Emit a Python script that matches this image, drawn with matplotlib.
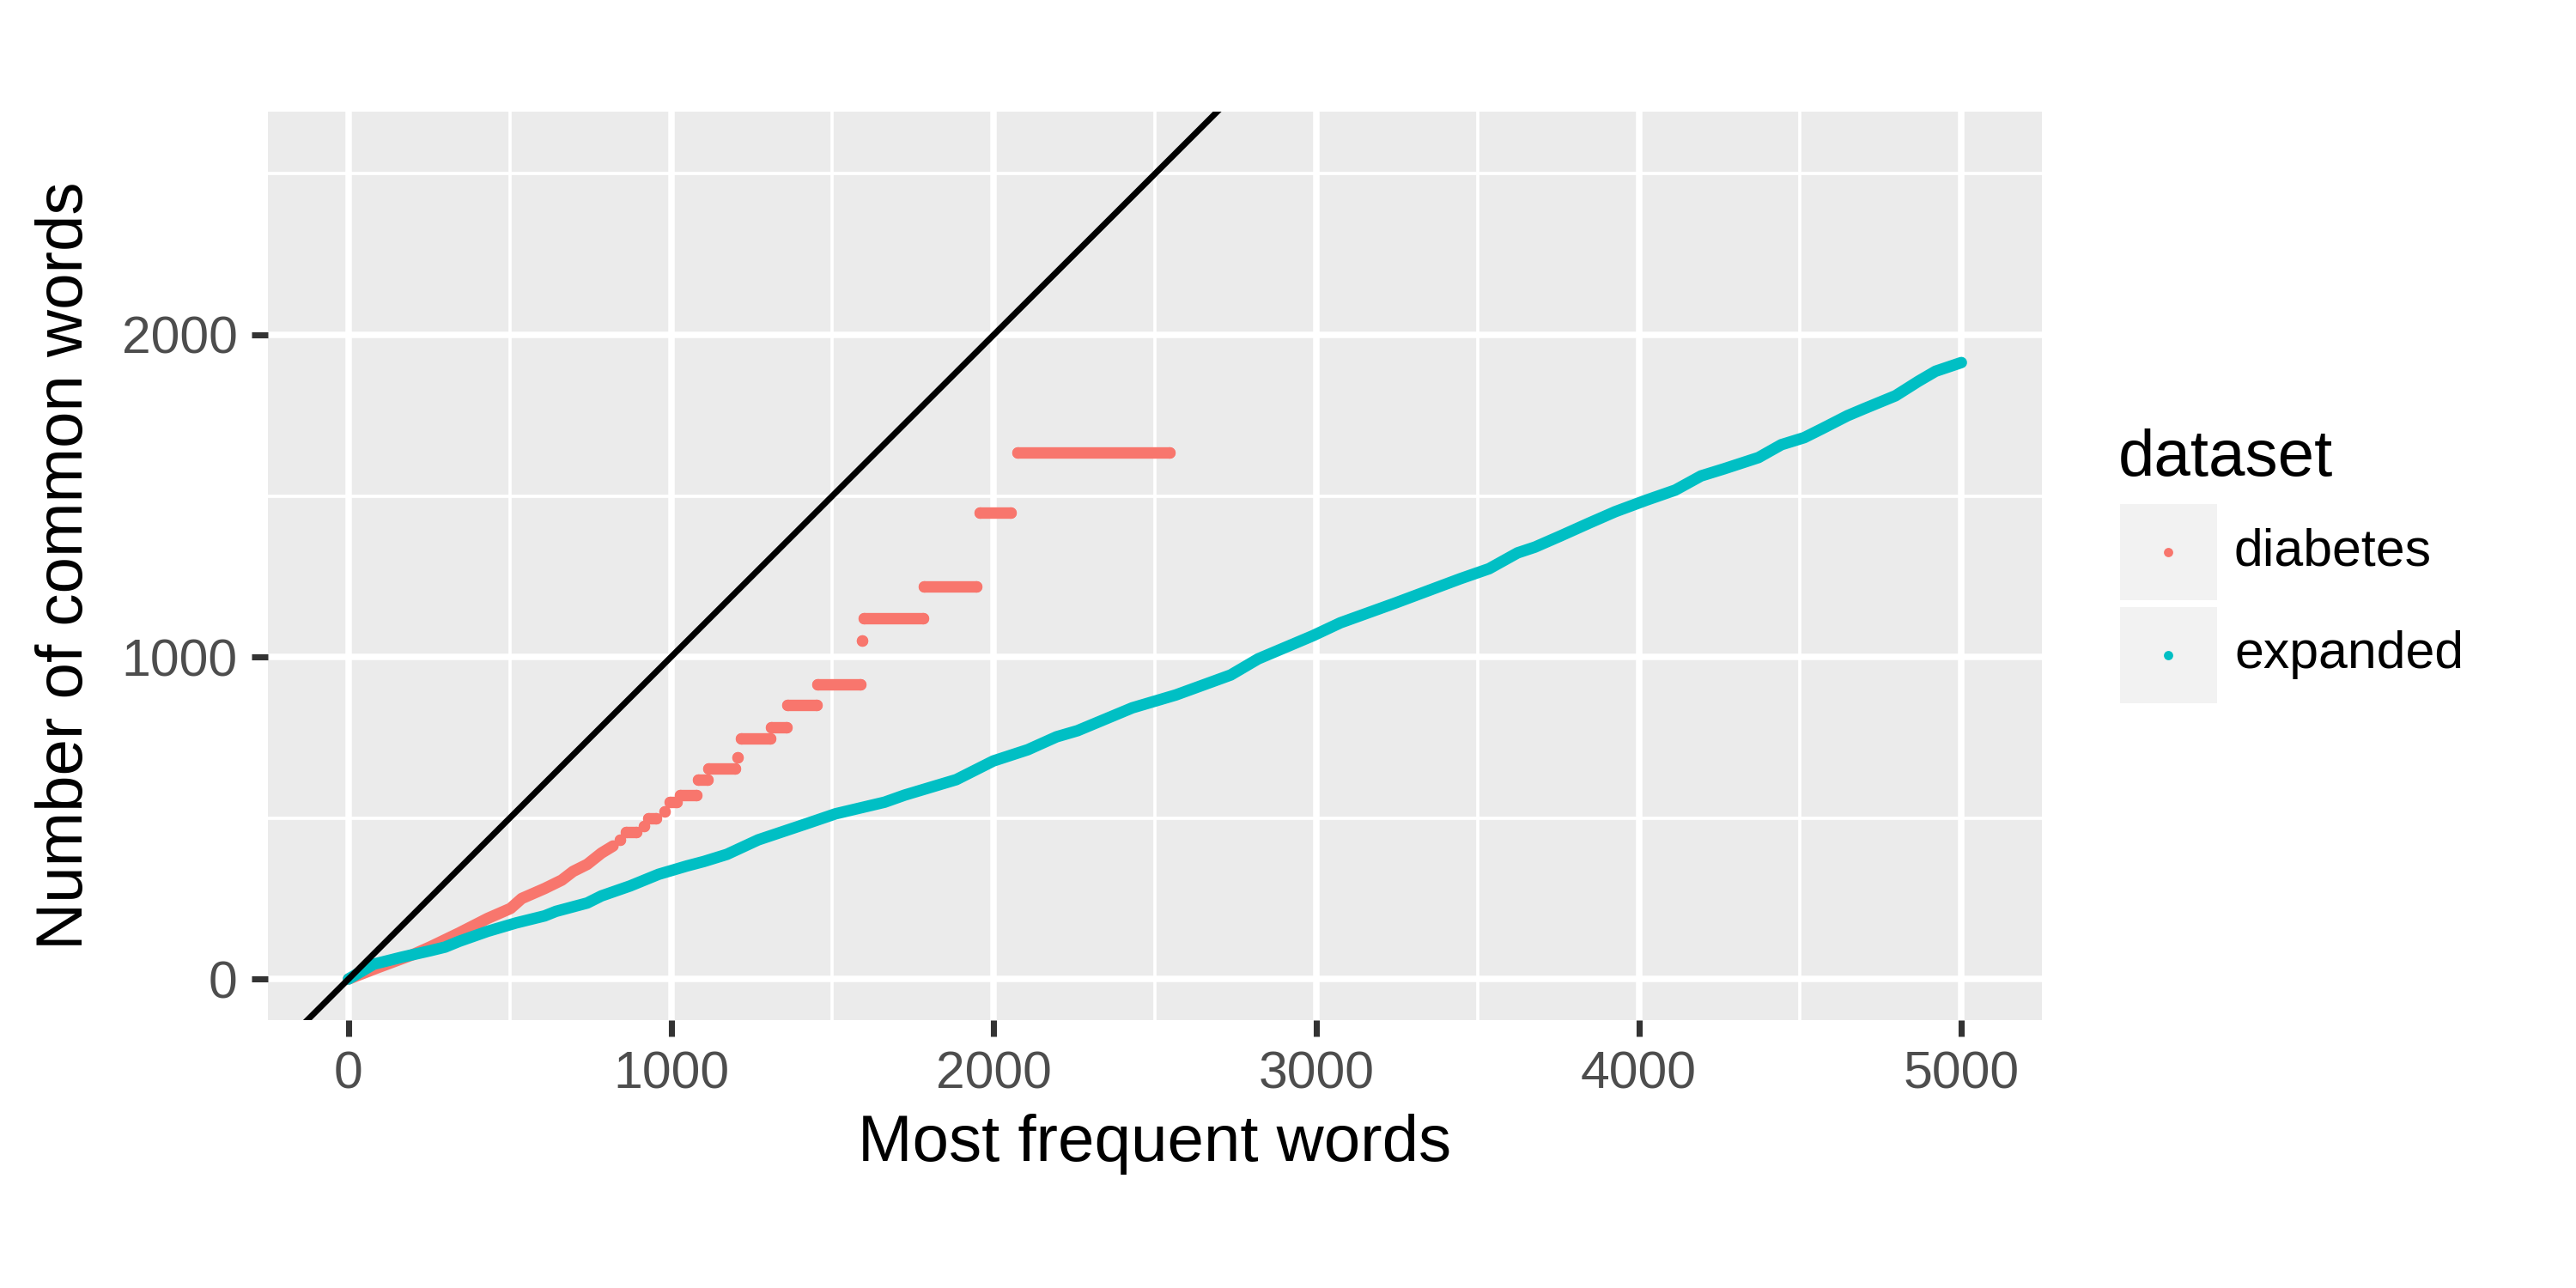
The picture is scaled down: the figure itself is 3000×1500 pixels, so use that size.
import numpy as np
import matplotlib.pyplot as plt
from matplotlib.patches import Rectangle
from matplotlib.lines import Line2D

plt.rcParams['font.family'] = ['Liberation Sans', 'DejaVu Sans']

# _______________________ data _______________________

series_names = ['diabetes', 'expanded']
series_colors = ['#F8766D', '#00BFC4']

# expanded: dense points, looks like a continuous curve
expanded_x = [0, 78, 166, 254, 299, 343, 431, 519, 608, 643, 740, 784, 873, 961,
              1049, 1102, 1173, 1270, 1422, 1510, 1662, 1724, 1884, 1999, 2106,
              2195, 2260, 2430, 2565, 2735, 2820, 2990, 3075, 3244, 3447, 3536,
              3624, 3678, 3758, 3847, 3927, 4024, 4113, 4193, 4264, 4371, 4442,
              4513, 4567, 4647, 4699, 4796, 4867, 4920, 5000]
expanded_y = [0, 46, 68, 88, 99, 117, 148, 174, 196, 210, 236, 258, 289, 325,
              351, 365, 387, 432, 483, 513, 549, 571, 619, 677, 712,
              752, 771, 842, 882, 944, 994, 1066, 1106, 1167, 1243, 1274,
              1323, 1341, 1376, 1416, 1451, 1487, 1518, 1562, 1584, 1619, 1659,
              1681, 1708, 1749, 1771, 1811, 1856, 1887, 1914]

# diabetes: smooth rising part first
diabetes_x = [0, 90, 200, 254, 343, 431, 502, 537, 608, 661, 696, 740, 784, 820]
diabetes_y = [0, 35, 76, 100, 143, 188, 219, 250, 281, 307, 334, 356, 391, 413]

# diabetes: then flat runs (start, end, value); start == end is a single point
step_start = [842, 859, 915, 929, 980, 996, 1028, 1084, 1115, 1207, 1216, 1309,
              1360, 1453, 1592, 1597, 1783, 1957, 2073]
step_end = [842, 891, 915, 954, 980, 1016, 1078, 1114, 1198, 1207, 1307, 1359,
            1451, 1588, 1592, 1782, 1946, 2052, 2545]
step_y = [432, 455, 474, 499, 519, 549, 572, 619, 653, 688, 746, 781,
          852, 916, 1050, 1119, 1219, 1449, 1635]

# _______________________ plotting _______________________

dot = 3.2  # point diameter in pt

fig = plt.figure(figsize=(10, 5), dpi=300)
ax = fig.add_axes([0.1040, 0.2079, 0.6887, 0.7054])
ax.set_facecolor('#EBEBEB')
for s in ax.spines.values():
    s.set_visible(False)

# diabetes
ax.plot(diabetes_x, diabetes_y, color=series_colors[0], lw=dot,
        solid_capstyle='round', solid_joinstyle='round', zorder=3)
for x0, x1, y in zip(step_start, step_end, step_y):
    ax.plot([x0, x1], [y, y], color=series_colors[0], lw=dot,
            solid_capstyle='round', marker='o', ms=dot, mew=0, zorder=3)

# expanded
ax.plot(expanded_x, expanded_y, color=series_colors[1], lw=dot,
        solid_capstyle='round', solid_joinstyle='round', zorder=3)

# y = x reference
ax.axline((0, 0), slope=1, color='black', lw=1.7, zorder=4)

ax.set_xlim(-250, 5250)
ax.set_ylim(-128, 2693)
ax.set_xticks(np.arange(0, 5001, 1000))
ax.set_xticks(np.arange(500, 5000, 1000), minor=True)
ax.set_yticks([0, 1000, 2000])
ax.set_yticks([500, 1500, 2500], minor=True)
ax.set_axisbelow(True)
ax.grid(which='major', color='white', lw=1.8)
ax.grid(which='minor', color='white', lw=0.9)
ax.tick_params(which='major', length=4.5, width=1.7, color='#333333',
               labelcolor='#4D4D4D', labelsize=14.6, pad=4)
ax.tick_params(which='minor', length=0)

ax.set_xlabel('Most frequent words', fontsize=18.3, labelpad=4)
ax.set_ylabel('Number of common words', fontsize=18.3, labelpad=7)

# legend, ggplot style
fig.text(0.8223, 0.6307, 'dataset', fontsize=18.3, va='baseline', ha='left')
for i, (name, color) in enumerate(zip(series_names, series_colors)):
    bottom = 0.534 - i * 0.08
    fig.add_artist(Rectangle((0.823, bottom), 0.0377, 0.0747, facecolor='#F2F2F2',
                             edgecolor='none', transform=fig.transFigure))
    cy = bottom + 0.0747 / 2
    fig.add_artist(Line2D([0.8417], [cy], marker='o', ms=2.6, mew=0, color=color,
                          linestyle='none', transform=fig.transFigure))
    fig.text(0.8673, cy, name, fontsize=14.6, va='center', ha='left')

fig.savefig('out.png', dpi=300)
